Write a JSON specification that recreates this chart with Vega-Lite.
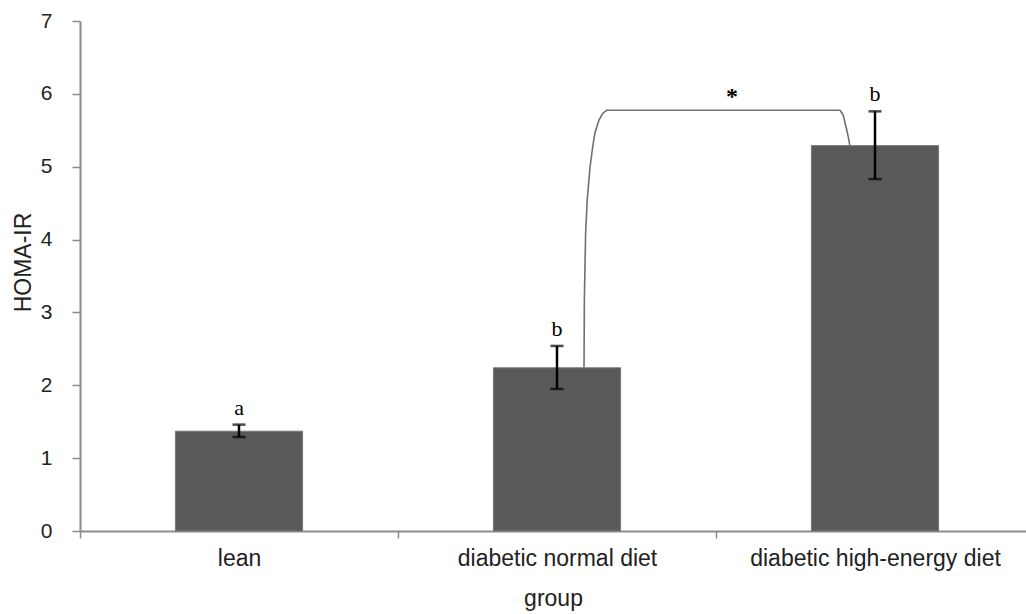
{
  "$schema": "https://vega.github.io/schema/vega-lite/v6.json",
  "autosize": "none",
  "padding": {"left": 80, "top": 21, "right": 0, "bottom": 83},
  "width": 954,
  "height": 510,
  "background": "white",
  "config": {"view": {"stroke": null}},
  "datasets": {
    "groups": [
      {"group": "lean", "mean": 1.37, "lo": 1.29, "hi": 1.46, "letter": "a"},
      {"group": "diabetic normal diet", "mean": 2.24, "lo": 1.95, "hi": 2.54, "letter": "b"},
      {"group": "diabetic high-energy diet", "mean": 5.29, "lo": 4.83, "hi": 5.76, "letter": "b"}
    ],
    "bracket": [
      {"i": 0, "bx": 1.585, "by": 2.24},
      {"i": 1, "bx": 1.586, "by": 3.17},
      {"i": 2, "bx": 1.590, "by": 4.09},
      {"i": 3, "bx": 1.595, "by": 4.54},
      {"i": 4, "bx": 1.604, "by": 5.00},
      {"i": 5, "bx": 1.611, "by": 5.23},
      {"i": 6, "bx": 1.619, "by": 5.46},
      {"i": 7, "bx": 1.632, "by": 5.64},
      {"i": 8, "bx": 1.644, "by": 5.735},
      {"i": 9, "bx": 1.656, "by": 5.775},
      {"i": 10, "bx": 2.390, "by": 5.775},
      {"i": 11, "bx": 2.400, "by": 5.71},
      {"i": 12, "bx": 2.409, "by": 5.545},
      {"i": 13, "bx": 2.416, "by": 5.41},
      {"i": 14, "bx": 2.421, "by": 5.29}
    ],
    "star": [{"bx": 2.05, "by": 5.96, "label": "*"}]
  },
  "layer": [
    {
      "data": {"name": "groups"},
      "layer": [
        {
          "mark": {"type": "bar", "color": "#595959", "stroke": "#7a7a7a", "strokeWidth": 1, "width": {"band": 0.4}},
          "encoding": {
            "x": {
              "field": "group", "type": "nominal", "sort": null, "title": "group",
              "scale": {"paddingInner": 0, "paddingOuter": 0},
              "axis": {
                "title": "group", "labelAngle": 0, "tickBand": "extent", "labelLimit": 500,
                "domainColor": "#8c8c8c", "domainWidth": 2, "tickColor": "#8c8c8c", "tickWidth": 1.5, "tickSize": 7,
                "labelFont": "Liberation Sans", "labelFontSize": 23, "labelColor": "#222222", "labelPadding": 9,
                "titleFont": "Liberation Sans", "titleFontSize": 23, "titleFontWeight": "normal", "titleColor": "#222222",
                "titleX": 473, "titleY": 67, "titleBaseline": "middle"
              }
            },
            "y": {
              "field": "mean", "type": "quantitative", "title": "HOMA-IR",
              "scale": {"domain": [0, 7], "nice": false},
              "axis": {
                "title": "HOMA-IR", "tickCount": 7, "grid": false,
                "domainColor": "#8c8c8c", "domainWidth": 2, "tickColor": "#8c8c8c", "tickWidth": 1.5, "tickSize": 8,
                "labelFont": "Liberation Sans", "labelFontSize": 21, "labelColor": "#222222", "labelPadding": 20,
                "titleFont": "Liberation Sans", "titleFontSize": 23, "titleFontWeight": "normal", "titleColor": "#222222",
                "titleX": -57, "titleY": 241, "titleAlign": "center", "titleBaseline": "middle"
              }
            }
          }
        },
        {
          "mark": {"type": "errorbar", "thickness": 2.5, "color": "black", "ticks": {"size": 13, "thickness": 2.5, "color": "black"}},
          "encoding": {
            "x": {"field": "group", "type": "nominal", "sort": null, "title": "group"},
            "y": {"field": "lo", "type": "quantitative", "title": "HOMA-IR"},
            "y2": {"field": "hi"}
          }
        },
        {
          "mark": {"type": "text", "font": "Liberation Serif", "fontSize": 22, "baseline": "alphabetic", "dy": -10, "color": "black"},
          "encoding": {
            "x": {"field": "group", "type": "nominal", "sort": null, "title": "group"},
            "y": {"field": "hi", "type": "quantitative", "title": "HOMA-IR"},
            "text": {"field": "letter"}
          }
        }
      ]
    },
    {
      "data": {"name": "bracket"},
      "mark": {"type": "line", "color": "#707070", "strokeWidth": 1.6},
      "encoding": {
        "x": {"field": "bx", "type": "quantitative", "scale": {"domain": [0, 3], "nice": false}, "axis": null},
        "y": {"field": "by", "type": "quantitative", "title": "HOMA-IR", "scale": {"domain": [0, 7], "nice": false}},
        "order": {"field": "i", "type": "quantitative"}
      }
    },
    {
      "data": {"name": "star"},
      "mark": {"type": "text", "font": "Liberation Serif", "fontSize": 24, "fontWeight": "bold", "baseline": "middle", "color": "black"},
      "encoding": {
        "x": {"field": "bx", "type": "quantitative", "scale": {"domain": [0, 3], "nice": false}, "axis": null},
        "y": {"field": "by", "type": "quantitative", "title": "HOMA-IR"},
        "text": {"field": "label"}
      }
    }
  ],
  "resolve": {"scale": {"x": "independent"}}
}
